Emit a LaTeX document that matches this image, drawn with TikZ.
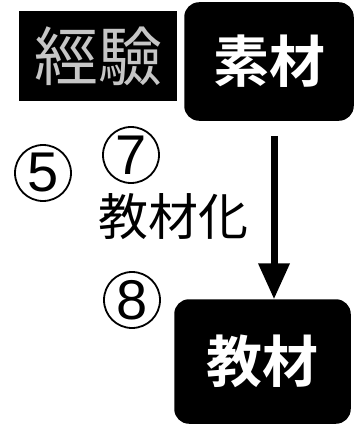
\documentclass[tikz,border=0pt]{standalone}
\usepackage{fontspec}
\newfontfamily\jp{Noto Sans CJK JP}
\newfontfamily\jpb{Noto Sans CJK JP Bold}
\newfontfamily\digits{Liberation Sans}
\usetikzlibrary{arrows.meta}
\tikzset{
  darkbox/.style={fill=black, draw=black, line width=1.5pt, inner sep=0pt},
  boxtext/.style={text=white, font=\jpb\fontsize{56}{56}\selectfont},
  circnum/.style={circle, draw=black, line width=1.8pt, inner sep=0pt, minimum size=56pt, font=\digits\fontsize{56}{56}\selectfont},
  flow/.style={line width=7pt, -{Triangle[width=30pt,length=36pt]}}
}
\begin{document}
\begin{tikzpicture}[x=1pt,y=-1pt]
\useasboundingbox (0,0) rectangle (356,425);
\node[darkbox, minimum width=156pt, minimum height=88pt, text=gray!45, font=\jp\fontsize{64}{64}\selectfont] (keiken) at (98,56) {經驗};
\node[darkbox, rounded corners=14pt, minimum width=168pt, minimum height=117pt, boxtext] (sozai) at (269,61.5) {素材};
\node[darkbox, rounded corners=14pt, minimum width=175pt, minimum height=123pt, boxtext] (kyozai) at (262.5,361.5) {教材};
\node[circnum] (n5) at (43,173) {5};
\node[circnum] (n7) at (131,155) {7};
\node[circnum] (n8) at (132,300) {8};
\node[font=\jp\fontsize{50}{50}\selectfont, inner sep=0pt] (kyozaika) at (173,217) {教材化};
\coordinate (a1) at ([xshift=5pt,yshift=-15pt]sozai.south);
\coordinate (a2) at (a1 |- kyozai.north);
\draw[flow] (a1) -- (a2);
\end{tikzpicture}
\end{document}
